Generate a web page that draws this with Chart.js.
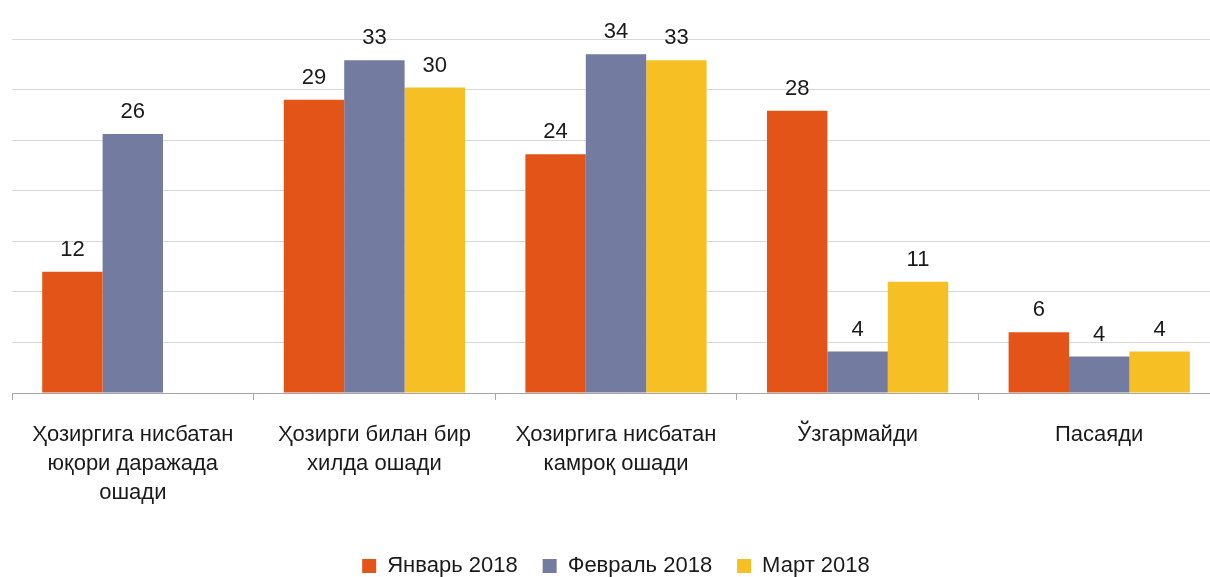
<!DOCTYPE html>
<html>
<head>
<meta charset="utf-8">
<script src="https://cdn.jsdelivr.net/npm/chart.js@4/dist/chart.umd.min.js"></script>
<style>
    html, body { margin: 0; padding: 0; background: #fff; overflow: hidden; }
    /* чизма ўнг томондан бир оз кесилган */
    #wrap { position: relative; width: 1220px; height: 577px; }
</style>
</head>
<body>
<div id="wrap"><canvas id="chart"></canvas></div>
<script>
// Категориялар ва қийматлар (%)
const categories = [
    ['Ҳозиргига нисбатан', 'юқори даражада', 'ошади'],
    ['Ҳозирги билан бир', 'хилда ошади'],
    ['Ҳозиргига нисбатан', 'камроқ ошади'],
    'Ўзгармайди',
    'Пасаяди'
];
const seriesNames = ['Январь 2018', 'Февраль 2018', 'Март 2018'];
const january = [12.0, 29.0, 23.6, 27.9, 6.0];
const february = [25.6, 32.9, 33.5, 4.1, 3.6];
const march = [null, 30.2, 32.9, 11.0, 4.1];

const FONT = "'Liberation Sans Narrow', 'Liberation Sans', Arial, sans-serif";

const colors = {
    orange: '#E25418',
    slate: '#737BA1',
    yellow: '#F6BF23',
    grid: '#D9D9D9',
    axis: '#A6A6A6',
    text: '#1A1A1A'
};

// ====================================
// ёзувлар устунлар устида
// ====================================
const barLabels = {
    id: 'barLabels',
    afterDatasetsDraw(chart) {
        const ctx = chart.ctx;
        ctx.save();
        ctx.font = '22px ' + FONT;
        ctx.fillStyle = colors.text;
        ctx.textAlign = 'center';
        ctx.textBaseline = 'alphabetic';
        chart.data.datasets.forEach((ds, i) => {
            const meta = chart.getDatasetMeta(i);
            meta.data.forEach((bar, j) => {
                const v = ds.data[j];
                if (v === null || v === undefined) return;
                ctx.fillText(Math.round(v), bar.x, bar.y - 16);
            });
        });
        ctx.restore();
    }
};

new Chart(document.getElementById('chart'), {
    type: 'bar',
    data: {
        labels: categories,
        datasets: [
            { label: seriesNames[0], data: january, backgroundColor: colors.orange },
            { label: seriesNames[1], data: february, backgroundColor: colors.slate },
            { label: seriesNames[2], data: march, backgroundColor: colors.yellow }
        ]
    },
    options: {
        responsive: true,
        maintainAspectRatio: false,
        animation: false,
        categoryPercentage: 0.75,
        barPercentage: 1,
        layout: {
            padding: { left: 12, right: 0, top: 39, bottom: -10 }
        },
        plugins: {
            legend: {
                position: 'bottom',
                labels: {
                    boxWidth: 14,
                    boxHeight: 14,
                    padding: 25,
                    color: colors.text,
                    font: { family: FONT, size: 22 }
                }
            },
            tooltip: { enabled: false }
        },
        scales: {
            y: {
                min: 0,
                max: 35,
                ticks: { display: false, stepSize: 5 },
                grid: { color: colors.grid, drawTicks: false },
                border: { display: false }
            },
            x: {
                afterFit(scale) { scale.height = 137; },
                grid: {
                    offset: true,
                    drawOnChartArea: false,
                    drawTicks: true,
                    tickLength: 7,
                    color: colors.axis
                },
                border: { color: colors.axis },
                ticks: {
                    color: colors.text,
                    padding: 20,
                    maxRotation: 0,
                    autoSkip: false,
                    font: { family: FONT, size: 22, lineHeight: 1.32 }
                }
            }
        }
    },
    plugins: [barLabels]
});
</script>
</body>
</html>
